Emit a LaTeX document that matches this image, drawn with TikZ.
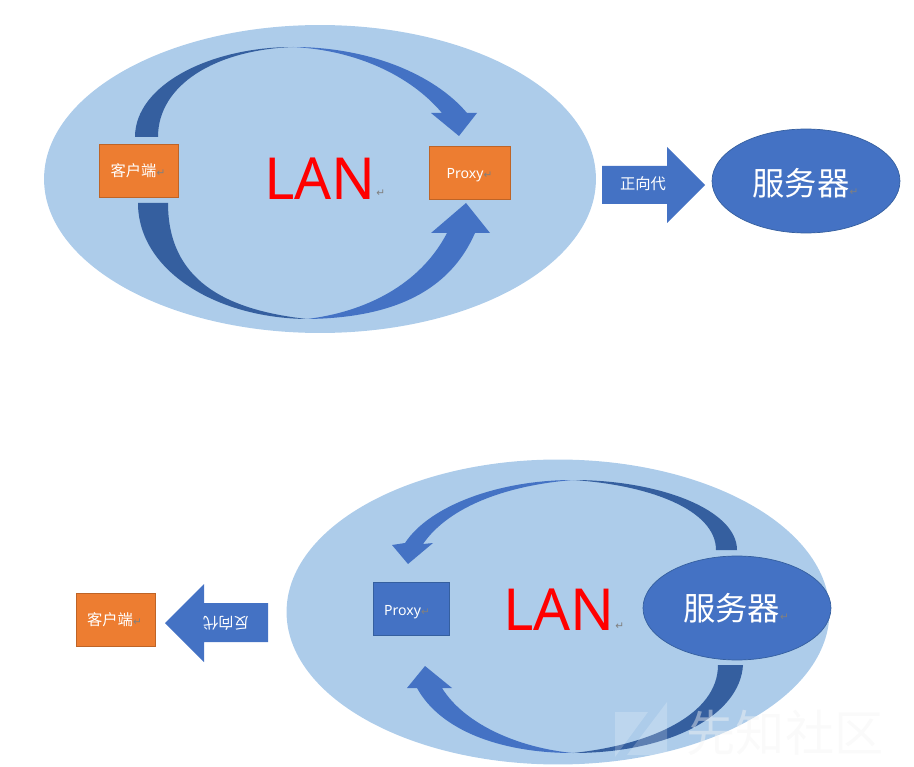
\documentclass[tikz,border=0pt]{standalone}
\usepackage{xcolor}
\usepackage{fontspec}
\usepackage{tikz}
\setmainfont{Noto Sans}
\newfontfamily\cjk{Noto Sans CJK SC}
\newfontfamily\retfont{DejaVu Sans}
\definecolor{lanblue}{HTML}{ADCCEA}
\definecolor{midblue}{HTML}{4472C4}
\definecolor{darkblue}{HTML}{355F9F}
\definecolor{boxorange}{HTML}{ED7D31}
\definecolor{markgray}{HTML}{F4F4F4}
\newcommand{\retmark}{{\retfont\fontsize{6}{6}\selectfont\textcolor{gray}{↵}}}
\tikzset{
  lan/.style={ellipse, fill=lanblue, inner sep=0pt},
  box/.style={draw=#1!80!black, fill=#1, line width=0.4pt, inner sep=0pt, minimum width=1.58cm, minimum height=1.06cm, text=white, font=\cjk\fontsize{8.7}{9}\selectfont},
  server/.style={ellipse, draw=darkblue, fill=midblue, line width=0.4pt, inner sep=0pt, minimum width=3.76cm, minimum height=2.08cm, text=white, font=\cjk\fontsize{18.4}{19}\selectfont},
  lantext/.style={text=red, inner sep=0pt, font=\fontsize{33}{33}\selectfont},
  darkpart/.style={fill=darkblue},
  midpart/.style={fill=midblue},
  plain/.style={inner sep=0pt, text=white, font=\cjk\fontsize{8.7}{9}\selectfont}
}
\usetikzlibrary{shapes.geometric}

\begin{document}
\begin{tikzpicture}[x=0.02cm, y=-0.02cm]
  \useasboundingbox (0,0) rectangle (914,767);

  % upper picture
  \node[lan, minimum width=11.04cm, minimum height=6.16cm] (lan1) at (320,179) {};
  \fill[darkpart] (135,137) .. controls (135,85) and (210,47) .. (293,47)
    .. controls (215,50) and (158,85) .. (158,137) -- cycle;
  \fill[midpart] (293,47) .. controls (370,47) and (435,75) .. (467,113) -- (477,113) -- (459,136) -- (431,113) -- (442,113)
    .. controls (410,75) and (355,50) .. (293,47) -- cycle;
  \fill[darkpart] (138,203) .. controls (138,270) and (215,318) .. (307,319)
    .. controls (225,310) and (168,280) .. (168,203) -- cycle;
  \fill[midpart] (307,319) .. controls (395,318) and (450,290) .. (475,233) -- (490,233) -- (466,203) -- (431,233) -- (447,233)
    .. controls (420,285) and (365,312) .. (307,319) -- cycle;
  \node[box=boxorange] (client1) at (139,170.5) {\hspace{-0.04cm}客户端\retmark};
  \node[box=boxorange, minimum width=1.62cm, font=\fontsize{8}{8}\selectfont] (proxy1) at (469.5,173) {\raisebox{-3pt}[0pt][0pt]{Proxy\retmark}};
  \node[lantext] (lantext1) at (320,179) {LAN};
  \node[anchor=south west, inner sep=0pt] (ret1) at (376,197) {\retmark};
  \fill[midblue] (602,166) -- (667,166) -- (667,147) -- (705,185) -- (667,223) -- (667,204) -- (602,204) -- cycle;
  \node[plain] (forward) at (643,184) {正向代};
  \node[server] (server1) at (806,181) {\hspace{-0.02cm}\raisebox{-1.1pt}[\height][\depth]{服务器\retmark}};

  % lower picture
  \node[lan, minimum width=10.86cm, minimum height=6.1cm] (lan2) at (558,612) {};
  \fill[darkpart] (737,550) .. controls (737,510) and (660,480) .. (573,480)
    .. controls (650,485) and (716,510) .. (716,550) -- cycle;
  \fill[midpart] (573,480) .. controls (500,480) and (430,505) .. (405,543) -- (392,545) -- (408,564) -- (433,543) -- (423,544)
    .. controls (450,505) and (510,485) .. (573,480) -- cycle;
  \fill[darkpart] (743,665) .. controls (740,715) and (670,753) .. (573,753)
    .. controls (650,745) and (718,715) .. (718,665) -- cycle;
  \fill[midpart] (573,753) .. controls (500,753) and (440,730) .. (417,688) -- (407,688) -- (425,666) -- (452,688) -- (442,688)
    .. controls (465,725) and (520,748) .. (573,753) -- cycle;
  \node[box=midblue, minimum width=1.52cm, draw=darkblue, font=\fontsize{8}{8}\selectfont] (proxy2) at (411,608.5) {\hspace{-0.16cm}\raisebox{-4pt}[0pt][0pt]{Proxy\retmark}};
  \node[lantext] (lantext2) at (559,610) {LAN};
  \node[anchor=south west, inner sep=0pt] (ret2) at (615,630) {\retmark};
  \node[server] (server2) at (737,608) {\hspace{-0.04cm}服务器\retmark};
  \node[box=boxorange] (client2) at (116,620) {\hspace{-0.06cm}客户端\retmark};
  \fill[midblue] (268,603) -- (204,603) -- (204,584) -- (165,623) -- (204,662) -- (204,642) -- (268,642) -- cycle;
  \node[plain, rotate=180] (reverse) at (226,623) {反向代};

  % watermark
  \fill[white, opacity=0.2] (615,712) -- (648,712) -- (615,757) -- cycle;
  \fill[white, opacity=0.2] (667,702) -- (667,755) -- (627,755) -- cycle;
  \node[inner sep=0pt, text=markgray, text opacity=0.45, font=\cjk\fontsize{28}{28}\selectfont] (mark) at (785,733) {先知社区};
\end{tikzpicture}
\end{document}
